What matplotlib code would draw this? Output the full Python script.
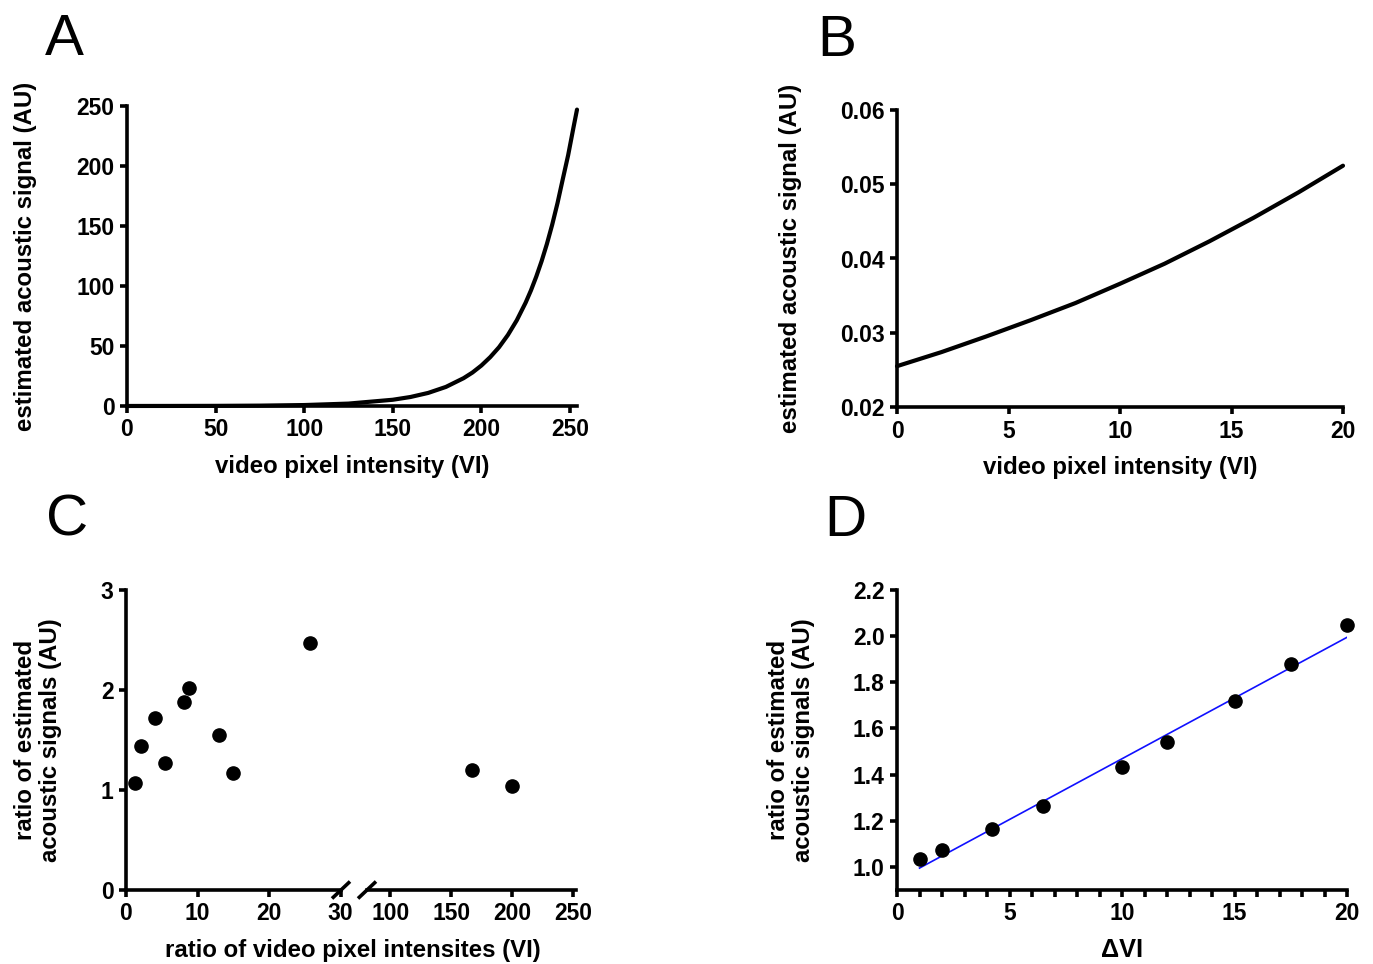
import numpy as np
import matplotlib
matplotlib.use("Agg")
import matplotlib.pyplot as plt
from matplotlib.lines import Line2D
from matplotlib.ticker import MultipleLocator

# ---------------- data ----------------
# Panel A: estimated acoustic signal vs video pixel intensity (0-255)
a_vi = [0, 25, 50, 75, 100, 125, 150, 160, 170, 180, 190, 195, 200, 205, 210,
        215, 220, 225, 228, 231, 234, 237, 240, 243, 246, 249, 252, 254]
a_sig = [0.02, 0.05, 0.12, 0.31, 0.79, 2.0, 5.2, 7.5, 10.9, 15.9, 23.2, 27.9,
         33.7, 40.7, 49.0, 59.2, 71.4, 86.1, 96.3, 107.8, 120.6, 135.0, 151.1,
         169.1, 189.2, 209.0, 232.0, 247.0]

# Panel B: zoom on VI 0-20
b_vi = [0, 2, 4, 6, 8, 10, 12, 14, 16, 18, 20]
b_sig = [0.0255, 0.0274, 0.0295, 0.0317, 0.0340, 0.0366, 0.0393, 0.0423,
         0.0455, 0.0489, 0.0525]

# Panel C: ratio of estimated acoustic signals vs ratio of VI (broken axis)
c_x_low = [1.2, 2.1, 4.0, 5.5, 8.1, 8.8, 13.0, 15.0, 25.8]
c_y_low = [1.07, 1.44, 1.72, 1.27, 1.88, 2.02, 1.55, 1.17, 2.47]
c_x_high = [167, 200]
c_y_high = [1.20, 1.04]

# Panel D: ratio vs delta VI with linear fit
d_x = [1, 2, 4.2, 6.5, 10, 12, 15, 17.5, 20]
d_y = [1.035, 1.075, 1.165, 1.265, 1.435, 1.54, 1.72, 1.88, 2.05]
d_fit_x = [1, 20]
d_fit_y = [0.995, 1.995]

# ---------------- style ----------------
W, H = 1373, 964
plt.rcParams['font.family'] = ['Liberation Sans', 'DejaVu Sans']
plt.rcParams['font.weight'] = 'bold'
TICK_FS = 16.5
LABEL_FS = 17.3
SPINE_W = 2.6
TICK_LEN = 5

fig = plt.figure(figsize=(W / 100, H / 100), dpi=100)


def add_ax(left, right, top, bottom):
    return fig.add_axes([left / W, 1 - bottom / H, (right - left) / W, (bottom - top) / H])


def style(ax, left=True):
    for s in ['top', 'right']:
        ax.spines[s].set_visible(False)
    ax.spines['bottom'].set_linewidth(SPINE_W)
    ax.spines['left'].set_linewidth(SPINE_W)
    if not left:
        ax.spines['left'].set_visible(False)
        ax.tick_params(axis='y', left=False, labelleft=False)
    ax.tick_params(axis='both', which='both', direction='out', length=TICK_LEN,
                   width=SPINE_W, labelsize=TICK_FS, pad=4)
    for lab in ax.get_xticklabels() + ax.get_yticklabels():
        lab.set_fontweight('bold')
    ax.patch.set_alpha(0)


# ---------------- Panel A ----------------
axA = add_ax(127, 577, 106, 406)
axA.plot(a_vi, a_sig, color='black', lw=3.0, solid_capstyle='round', clip_on=False)
axA.set_xlim(0, 254)
axA.set_ylim(0, 250)
axA.set_xticks([0, 50, 100, 150, 200, 250])
axA.set_yticks([0, 50, 100, 150, 200, 250])
style(axA)
axA.set_xlabel('video pixel intensity (VI)', fontsize=LABEL_FS, fontweight='bold')
axA.set_ylabel('estimated acoustic signal (AU)', fontsize=LABEL_FS, fontweight='bold')
axA.xaxis.set_label_coords(0.5, -0.165)
axA.yaxis.set_label_coords(-0.2, 0.5)

# ---------------- Panel B ----------------
axB = add_ax(897, 1343, 110, 407)
axB.plot(b_vi, b_sig, color='black', lw=3.0, solid_capstyle='round', clip_on=False)
axB.set_xlim(0, 20)
axB.set_ylim(0.02, 0.06)
axB.set_xticks([0, 5, 10, 15, 20])
axB.set_yticks([0.02, 0.03, 0.04, 0.05, 0.06])
axB.set_yticklabels(['0.02', '0.03', '0.04', '0.05', '0.06'])
style(axB)
axB.set_xlabel('video pixel intensity (VI)', fontsize=LABEL_FS, fontweight='bold')
axB.set_ylabel('estimated acoustic signal (AU)', fontsize=LABEL_FS, fontweight='bold')
axB.xaxis.set_label_coords(0.5, -0.165)
axB.yaxis.set_label_coords(-0.213, 0.5)

# ---------------- Panel C (broken x axis) ----------------
axC1 = add_ax(126, 340.5, 590, 890)
axC2 = add_ax(367, 576, 590, 890)
axC1.plot(c_x_low, c_y_low, 'o', color='black', ms=9.5, clip_on=False)
axC2.plot(c_x_high, c_y_high, 'o', color='black', ms=9.5, clip_on=False)
axC1.set_xlim(0, 30)
axC2.set_xlim(81, 252.5)
for ax in (axC1, axC2):
    ax.set_ylim(0, 3)
axC1.set_xticks([0, 10, 20, 30])
axC1.set_yticks([0, 1, 2, 3])
axC2.set_xticks([100, 150, 200, 250])
style(axC1)
style(axC2, left=False)
axC1.set_ylabel('ratio of estimated\nacoustic signals (AU)', fontsize=LABEL_FS,
                fontweight='bold', linespacing=1.1)
axC1.yaxis.set_label_coords(-0.3, 0.5)
fig.text(353 / W, 1 - 951 / H, 'ratio of video pixel intensites (VI)', ha='center',
         va='center', fontsize=LABEL_FS, fontweight='bold')
# break marks
for cx in (341, 367):
    fig.add_artist(Line2D([(cx - 9) / W, (cx + 9) / W],
                          [1 - (890 + 8.5) / H, 1 - (890 - 8.5) / H],
                          color='black', lw=SPINE_W, solid_capstyle='butt'))

# ---------------- Panel D ----------------
axD = add_ax(897, 1347, 590, 890)
axD.plot(d_fit_x, d_fit_y, color='#1010ff', lw=1.2)
axD.plot(d_x, d_y, 'o', color='black', ms=9.5, clip_on=False)
axD.set_xlim(0, 20)
axD.set_ylim(0.9, 2.2)
axD.set_xticks([0, 5, 10, 15, 20])
axD.xaxis.set_minor_locator(MultipleLocator(1))
axD.set_yticks([1.0, 1.2, 1.4, 1.6, 1.8, 2.0, 2.2])
axD.set_yticklabels(['1.0', '1.2', '1.4', '1.6', '1.8', '2.0', '2.2'])
style(axD)
axD.set_xlabel('ΔVI', fontsize=LABEL_FS + 1, fontweight='bold')
axD.xaxis.set_label_coords(0.5, -0.16)
axD.set_ylabel('ratio of estimated\nacoustic signals (AU)', fontsize=LABEL_FS,
               fontweight='bold', linespacing=1.1)
axD.yaxis.set_label_coords(-0.182, 0.5)

# ---------------- panel letters ----------------
for letter, x, y in [('A', 45, 55), ('B', 817, 56), ('C', 46, 536), ('D', 824, 536)]:
    fig.text(x / W, 1 - y / H, letter, ha='left', va='baseline', fontsize=42,
             fontweight='normal')

fig.savefig('out.png', dpi=100, facecolor='white')
